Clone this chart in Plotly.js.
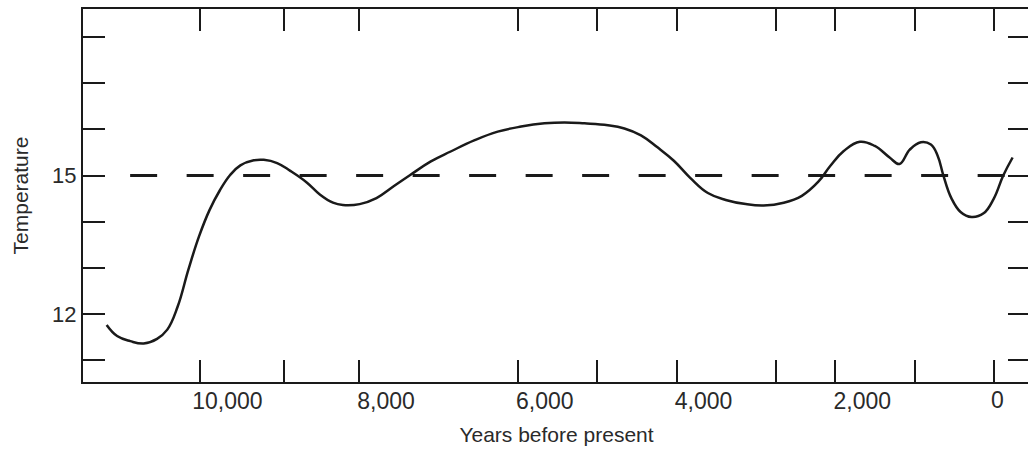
<!DOCTYPE html>
<html>
<head>
<meta charset="utf-8">
<script src="https://cdn.plot.ly/plotly-3.0.1.min.js"></script>
<style>
  html, body { margin: 0; padding: 0; background: #ffffff; overflow: hidden; width: 1028px; height: 453px; }
  #chart { width: 1040px; height: 453px; }
</style>
</head>
<body>
<div id="chart"></div>
<script>
// Years before present (x) and temperature (y)
var years = [11181, 11049, 10883, 10714, 10546, 10417, 10286, 10151, 10017, 9885,
             9754, 9625, 9496, 9327, 9201, 9033, 8867, 8660, 8495, 8329,
             8204, 7993, 7781, 7569, 7356, 7101, 6846, 6550, 6253, 5958,
             5664, 5412, 5160, 4865, 4657, 4448, 4240, 4034, 3828, 3605,
             3380, 3128, 2902, 2649, 2421, 2216, 2061, 1893, 1690, 1502,
             1315, 1191, 1061, 921, 795, 710, 639, 537, 421, 283,
             131, 2, -117, -235];
var temperature = [11.76, 11.52, 11.41, 11.36, 11.46, 11.66, 12.16, 12.96, 13.68, 14.25,
                   14.68, 15.01, 15.22, 15.33, 15.34, 15.27, 15.10, 14.85, 14.59, 14.41,
                   14.36, 14.38, 14.51, 14.76, 15.01, 15.30, 15.52, 15.76, 15.95, 16.06,
                   16.13, 16.15, 16.13, 16.09, 16.02, 15.87, 15.61, 15.32, 14.95, 14.62,
                   14.47, 14.38, 14.35, 14.41, 14.56, 14.86, 15.21, 15.53, 15.73, 15.64,
                   15.39, 15.25, 15.56, 15.72, 15.67, 15.43, 15.01, 14.51, 14.21, 14.10,
                   14.18, 14.50, 15.00, 15.39];

// Reference (dashed) level
var baselineYears = [10885, -180];
var baselineTemp = [15, 15];

// Axis ticks
var xTickVals = [10000, 8950, 8000, 6000, 5000, 4000, 2750, 2000, 1000, 0];
var xTickText = ['10,000', '', '8,000', '6,000', '', '4,000', '', '2,000', '', ''];
var zeroLabelYear = 0;
var zeroLabelText = '0';
var yTickVals = [11, 12, 13, 14, 15, 16, 17, 18];
var yTickText = ['', '12', '', '', '15', '', '', ''];

var ink = '#1a1a1a';
var textInk = '#2a2a2a';
var fontFam = '"Liberation Sans", Arial, sans-serif';

var traces = [
  {
    x: baselineYears, y: baselineTemp, type: 'scatter', mode: 'lines',
    line: { color: ink, width: 3, dash: '27px,29.5px' },
    hoverinfo: 'skip', showlegend: false
  },
  {
    x: years, y: temperature, type: 'scatter', mode: 'lines',
    line: { color: ink, width: 2.5, shape: 'spline', smoothing: 1.2 },
    showlegend: false
  }
];

var layout = {
  width: 1040, height: 453,
  margin: { l: 83, r: 10, t: 9, b: 71 },
  paper_bgcolor: '#ffffff', plot_bgcolor: '#ffffff',
  font: { family: fontFam, color: textInk, size: 22 },
  xaxis: {
    range: [11479, -454],
    tickmode: 'array', tickvals: xTickVals, ticktext: xTickText,
    ticks: 'inside', ticklen: 22, tickwidth: 2, tickcolor: ink,
    mirror: 'ticks', showline: true, linecolor: ink, linewidth: 2,
    showgrid: false, zeroline: false,
    tickfont: { family: fontFam, size: 23, color: textInk },
    ticklabelshift: -27,
    ticklabelstandoff: -3,
    title: { text: 'Years before present', font: { family: fontFam, size: 21, color: textInk }, standoff: 15 }
  },
  yaxis: {
    range: [10.525, 18.608],
    tickmode: 'array', tickvals: yTickVals, ticktext: yTickText,
    ticks: 'inside', ticklen: 22, tickwidth: 2, tickcolor: ink,
    mirror: 'ticks', showline: true, linecolor: ink, linewidth: 2,
    showgrid: false, zeroline: false,
    tickfont: { family: fontFam, size: 22, color: textInk },
    title: { text: 'Temperature', font: { family: fontFam, size: 21, color: textInk }, standoff: 18 }
  },
  annotations: [
    {
      x: zeroLabelYear, xref: 'x', y: 0, yref: 'paper',
      xanchor: 'center', yanchor: 'top', xshift: 4, yshift: -3,
      text: zeroLabelText, showarrow: false,
      font: { family: fontFam, size: 23, color: textInk }
    }
  ]
};

Plotly.newPlot('chart', traces, layout, { staticPlot: true, displayModeBar: false });
</script>
</body>
</html>
